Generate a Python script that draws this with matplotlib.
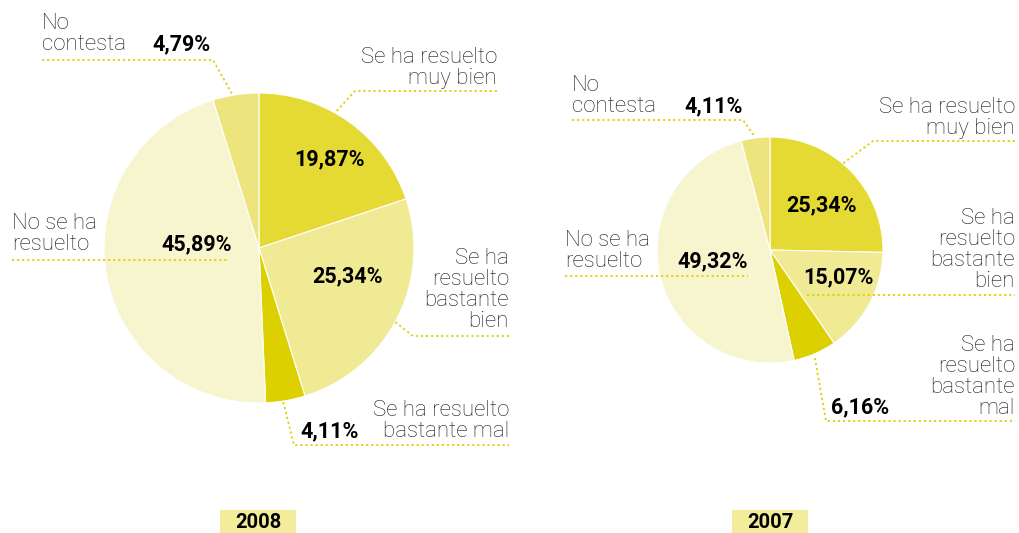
import numpy as np
import matplotlib.pyplot as plt
from matplotlib.patches import Rectangle

# Datos
categorias = ["Se ha resuelto muy bien", "Se ha resuelto bastante bien",
              "Se ha resuelto bastante mal", "No se ha resuelto", "No contesta"]
valores_2008 = [19.87, 25.34, 4.11, 45.89, 4.79]
valores_2007 = [25.34, 15.07, 6.16, 49.32, 4.11]
anios = ["2008", "2007"]

colores = ["#e4da33", "#f0ea95", "#dcd000", "#f7f5cd", "#eee47e"]
amarillo = "#e0d000"
gris = "#1a1a1a"

plt.rcParams['font.family'] = ['Roboto', 'DejaVu Sans']

W, H = 1019, 533
fig = plt.figure(figsize=(W / 100, H / 100), dpi=100)
ax = fig.add_axes([0, 0, 1, 1])


def Y(y):
    # pasa de coordenada de pixel (desde arriba) a coordenada del eje
    return H - y


def fmt(v):
    return f"{v:.2f}".replace(".", ",") + "%"


def tarta(valores, cx, cy, r):
    ax.pie(valores, colors=colores, center=(cx, Y(cy)), radius=r,
           startangle=90, counterclock=False,
           wedgeprops=dict(edgecolor='white', linewidth=0.8))


def punto_borde(valores, i, cx, cy, r, frac=0.5):
    # punto sobre el borde de la porcion i
    acum = np.cumsum([0] + list(valores))
    total = acum[-1]
    a = 90 - 360 * (acum[i] + frac * valores[i]) / total
    t = np.deg2rad(a)
    return cx + r * np.cos(t), Y(cy) + r * np.sin(t)


def linea(xs, ys):
    ax.plot(xs, ys, color=amarillo, lw=1.3,
            linestyle=(0, (1.2, 1.6)), solid_capstyle='butt')


def texto(x, y, s, ha='left', bold=False, size=16):
    # y = linea base de la ultima linea del texto (pixeles desde arriba)
    ax.text(x, Y(y), s, ha=ha, va='baseline', fontsize=size,
            fontweight='bold' if bold else 'light',
            color='black' if bold else gris, linespacing=1.0)


# ---- 2008 ----
cx, cy, r = 259, 248, 155
tarta(valores_2008, cx, cy, r)
v = valores_2008

texto(42, 50, "No\ncontesta")
texto(152, 50, fmt(v[4]), bold=True, size=15.5)
px, py = punto_borde(v, 4, cx, cy, r + 2, 0.42)
linea([42, 213, px], [Y(60), Y(60), py])

texto(497, 84, "Se ha resuelto\nmuy bien", ha='right')
px, py = punto_borde(v, 0, cx, cy, r, 0.41)
linea([497, 355, px], [Y(91), Y(91), py])
texto(330, 165, fmt(v[0]), ha='center', bold=True, size=15.5)

texto(509, 327, "Se ha\nresuelto\nbastante\nbien", ha='right')
px, py = punto_borde(v, 1, cx, cy, r, 0.515)
linea([509, 413, px], [Y(336), Y(336), py])
texto(348, 282, fmt(v[1]), ha='center', bold=True, size=15.5)

texto(509, 437, "Se ha resuelto\nbastante mal", ha='right')
texto(300, 437, fmt(v[2]), bold=True, size=15.5)
px, py = punto_borde(v, 2, cx, cy, r + 1, 0.56)
linea([px, 294, 509], [py, Y(445), Y(445)])

texto(12, 250, "No se ha\nresuelto")
texto(197, 250, fmt(v[3]), ha='center', bold=True, size=15.5)
linea([12, 228], [Y(260), Y(260)])

# ---- 2007 ----
cx, cy, r = 770, 250, 113
tarta(valores_2007, cx, cy, r)
v = valores_2007

texto(572, 112, "No\ncontesta")
texto(684, 112, fmt(v[4]), bold=True, size=15.5)
px, py = punto_borde(v, 4, cx, cy, r + 1, 0.49)
linea([572, 743, px], [Y(120), Y(120), py])

texto(1015, 134, "Se ha resuelto\nmuy bien", ha='right')
px, py = punto_borde(v, 0, cx, cy, r, 0.44)
linea([1015, 873, px], [Y(141), Y(141), py])
texto(822, 211, fmt(v[0]), ha='center', bold=True, size=15.5)

texto(1015, 287, "Se ha\nresuelto\nbastante\nbien", ha='right')
texto(838, 283, fmt(v[1]), ha='center', bold=True, size=15.5)
linea([807, 1015], [Y(295), Y(295)])

texto(1015, 414, "Se ha\nresuelto\nbastante\nmal", ha='right')
texto(831, 413, fmt(v[2]), bold=True, size=15.5)
px, py = punto_borde(v, 2, cx, cy, r + 4, 0.54)
linea([px, 826, 1015], [py, Y(421), Y(421)])

texto(565, 267, "No se ha\nresuelto")
texto(713, 267, fmt(v[3]), ha='center', bold=True, size=15.5)
linea([565, 748], [Y(276), Y(276)])

# ---- años ----
for anio, x in zip(anios, [258, 770]):
    ax.add_patch(Rectangle((x - 38, 0), 76, 23, facecolor='#f3ec9a',
                           edgecolor='none'))
    ax.text(x, Y(522), anio, ha='center', va='center', fontsize=14.5,
            fontweight='bold', color='black')

ax.set_xlim(0, W)
ax.set_ylim(0, H)
ax.set_aspect('equal')
ax.axis('off')

fig.savefig("out.png", dpi=100)
